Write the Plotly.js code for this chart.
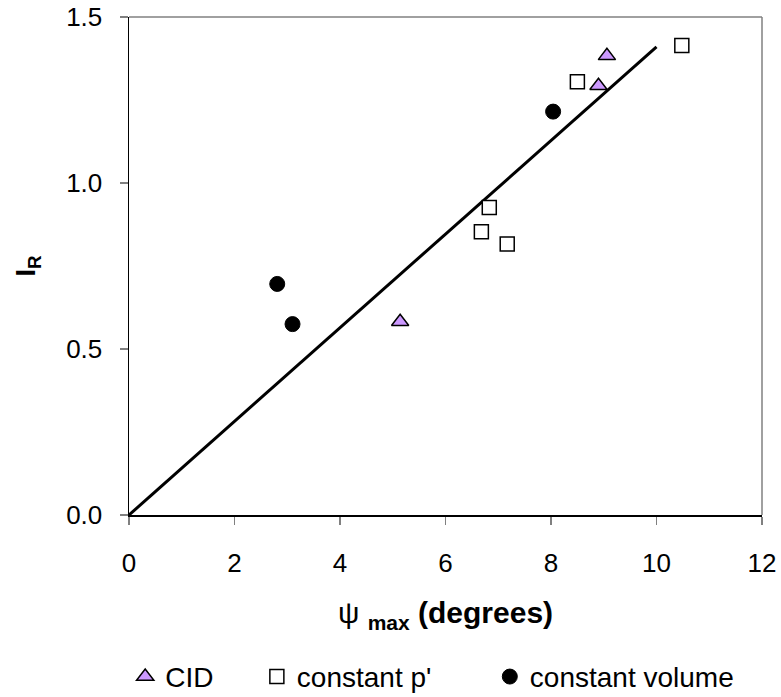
<!DOCTYPE html>
<html>
<head>
<meta charset="utf-8">
<script src="https://cdn.plot.ly/plotly-3.0.1.min.js"></script>
<style>
  html, body { margin: 0; padding: 0; background: #fff; }
  #chart { width: 781px; height: 697px; }
</style>
</head>
<body>
<div id="chart"></div>
<script>
// Peak dilatancy angle against relative dilatancy index, by test type
const cidPsi = [5.14, 8.90, 9.06];
const cidIR = [0.582, 1.293, 1.383];

const constPPsi = [6.68, 6.83, 7.17, 8.50, 10.48];
const constPIR = [0.853, 0.926, 0.816, 1.305, 1.414];

const constVolPsi = [2.81, 3.10, 8.04];
const constVolIR = [0.696, 0.575, 1.215];

// Best-fit line through the origin
const fitPsi = [0, 10];
const fitIR = [0, 1.41];

const xTicks = [0, 2, 4, 6, 8, 10, 12];
const yTicks = [0.0, 0.5, 1.0, 1.5];

const font = 'Liberation Sans, Arial, sans-serif';
const legendFont = { family: font, size: 28, color: '#000' };
const legendBase = {
  orientation: 'h', y: -0.325, yanchor: 'middle', xanchor: 'left',
  font: legendFont, itemsizing: 'trace', bgcolor: 'rgba(0,0,0,0)',
  borderwidth: 0
};

const traces = [
  {
    x: fitPsi, y: fitIR, mode: 'lines', showlegend: false, hoverinfo: 'skip',
    line: { color: '#000', width: 3 }
  },
  {
    x: cidPsi, y: cidIR, mode: 'markers', name: 'CID', legend: 'legend',
    marker: { symbol: 'triangle-up', size: 15, color: '#CC99FF',
              line: { color: '#000', width: 1.5 } }
  },
  {
    x: constPPsi, y: constPIR, mode: 'markers', name: "constant p'", legend: 'legend2',
    marker: { symbol: 'square', size: 14, color: '#fff',
              line: { color: '#000', width: 1.5 } }
  },
  {
    x: constVolPsi, y: constVolIR, mode: 'markers', name: 'constant volume', legend: 'legend3',
    marker: { symbol: 'circle', size: 15, color: '#000',
              line: { color: '#000', width: 1 } }
  }
];

const layout = {
  width: 781, height: 697,
  margin: { l: 129, r: 19, t: 17, b: 182, autoexpand: false },
  paper_bgcolor: '#fff', plot_bgcolor: '#fff',
  font: { family: font, size: 26, color: '#000' },
  xaxis: {
    range: [0, 12], tickvals: xTicks, ticktext: xTicks.map(String),
    showgrid: false, zeroline: false, automargin: false,
    showline: true, linecolor: '#000', linewidth: 2,
    ticks: 'outside', ticklen: 8, tickcolor: '#808080', tickwidth: 1.5,
    ticklabelstandoff: 16,
    tickfont: { family: font, size: 26 },
    title: { text: 'ψ <b><sub>max</sub> (degrees)</b>', font: { family: font, size: 30 }, standoff: 25 }
  },
  yaxis: {
    range: [0, 1.5], tickvals: yTicks, ticktext: yTicks.map(v => v.toFixed(1)),
    showgrid: false, zeroline: false, automargin: false,
    showline: true, linecolor: '#000', linewidth: 1.5,
    ticks: 'outside', ticklen: 8, tickcolor: '#808080', tickwidth: 1.5,
    ticklabelstandoff: 12,
    tickfont: { family: font, size: 26 },
    title: { text: '<b>I<sub>R</sub></b>', font: { family: font, size: 27 }, standoff: 22 }
  },
  shapes: [
    { type: 'line', xref: 'paper', yref: 'paper', x0: 0, x1: 1, y0: 1, y1: 1,
      line: { color: '#808080', width: 1.5 }, layer: 'below' },
    { type: 'line', xref: 'paper', yref: 'paper', x0: 1, x1: 1, y0: 0, y1: 1,
      line: { color: '#808080', width: 1.5 }, layer: 'below' }
  ],
  showlegend: true,
  legend: Object.assign({}, legendBase, { x: -0.006 }),
  legend2: Object.assign({}, legendBase, { x: 0.202 }),
  legend3: Object.assign({}, legendBase, { x: 0.570 })
};

Plotly.newPlot('chart', traces, layout, { displayModeBar: false, staticPlot: true });
</script>
</body>
</html>
